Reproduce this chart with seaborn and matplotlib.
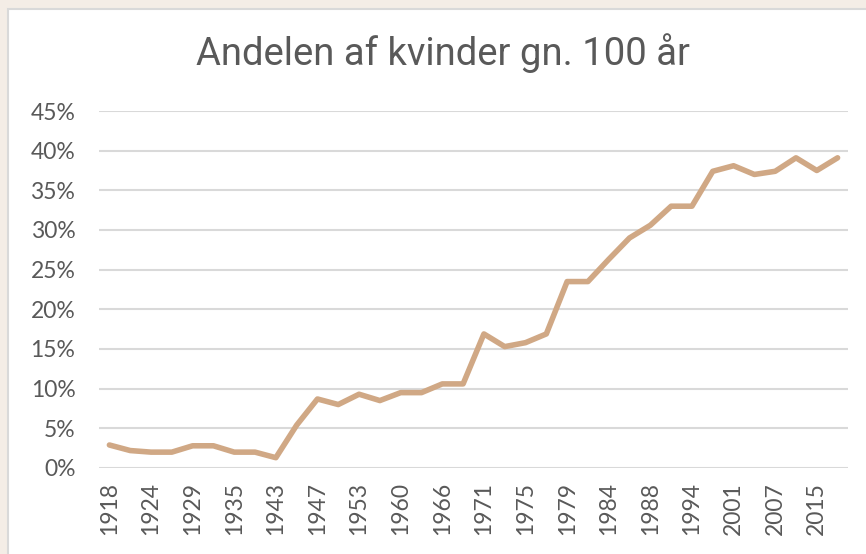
import matplotlib
matplotlib.use('Agg')
import matplotlib.pyplot as plt
import matplotlib.patches as mpatches
from matplotlib.ticker import FuncFormatter
import pandas as pd
import seaborn as sns

years = ['1918', '1920', '1924', '1926', '1929', '1932', '1935', '1939', '1943', '1945',
         '1947', '1950', '1953', '1957', '1960', '1964', '1966', '1968', '1971', '1973',
         '1975', '1977', '1979', '1981', '1984', '1987', '1988', '1990', '1994', '1998',
         '2001', '2005', '2007', '2011', '2015', '2019']
share = [2.9, 2.2, 2.0, 2.0, 2.8, 2.8, 2.0, 2.0, 1.3, 5.4,
         8.7, 8.0, 9.3, 8.5, 9.5, 9.5, 10.6, 10.6, 16.9, 15.3,
         15.8, 16.9, 23.5, 23.5, 26.3, 29.0, 30.6, 33.0, 33.0, 37.4,
         38.1, 37.0, 37.4, 39.1, 37.5, 39.1]
tick_years = years[::2]

df = pd.DataFrame({'year': years, 'share': [v / 100 for v in share]})

sns.set_style('white')
plt.rcParams['font.family'] = ['Lato', 'DejaVu Sans']

fig = plt.figure(figsize=(8.66, 5.54), dpi=100)
fig.patch.set_facecolor('#f4ede6')
# white card with a thin grey edge on top of the beige page
panel = mpatches.Rectangle((8 / 866, -0.01), 1.0, 1 - 9 / 554 + 0.01, transform=fig.transFigure,
                           facecolor='white', edgecolor='#d9d9d9', linewidth=1.5, zorder=-5)
fig.patches.append(panel)

ax = fig.add_axes([99 / 866, 86 / 554, (848 - 99) / 866, (468 - 111) / 554])
ax.set_facecolor('none')
sns.lineplot(data=df, x='year', y='share', ax=ax, color='#d0a885', linewidth=4,
             solid_capstyle='round', solid_joinstyle='round', sort=False)

ax.set_xlim(-0.5, len(years) - 0.5)
ax.set_ylim(0, 0.45)
ax.set_yticks([i * 0.05 for i in range(10)])
ax.yaxis.set_major_formatter(FuncFormatter(lambda v, p: f'{v * 100:.0f}%'))
ax.set_xticks(range(0, len(years), 2))
ax.set_xticklabels(tick_years, rotation=90)
ax.grid(axis='y', color='#d9d9d9', linewidth=1.5)
ax.set_axisbelow(True)
for s in ax.spines.values():
    s.set_visible(False)
ax.tick_params(axis='both', length=0, labelsize=16.5, labelcolor='#595959')
ax.tick_params(axis='y', pad=17)
ax.tick_params(axis='x', pad=10)
ax.set_xlabel('')
ax.set_ylabel('')

fig.text(443 / 866, 1 - 53 / 554, 'Andelen af kvinder gn. 100 år', ha='center', va='center',
         fontsize=27.5, color='#595959', family=['Roboto', 'DejaVu Sans'])

fig.savefig('out.png', dpi=100, facecolor=fig.get_facecolor())
